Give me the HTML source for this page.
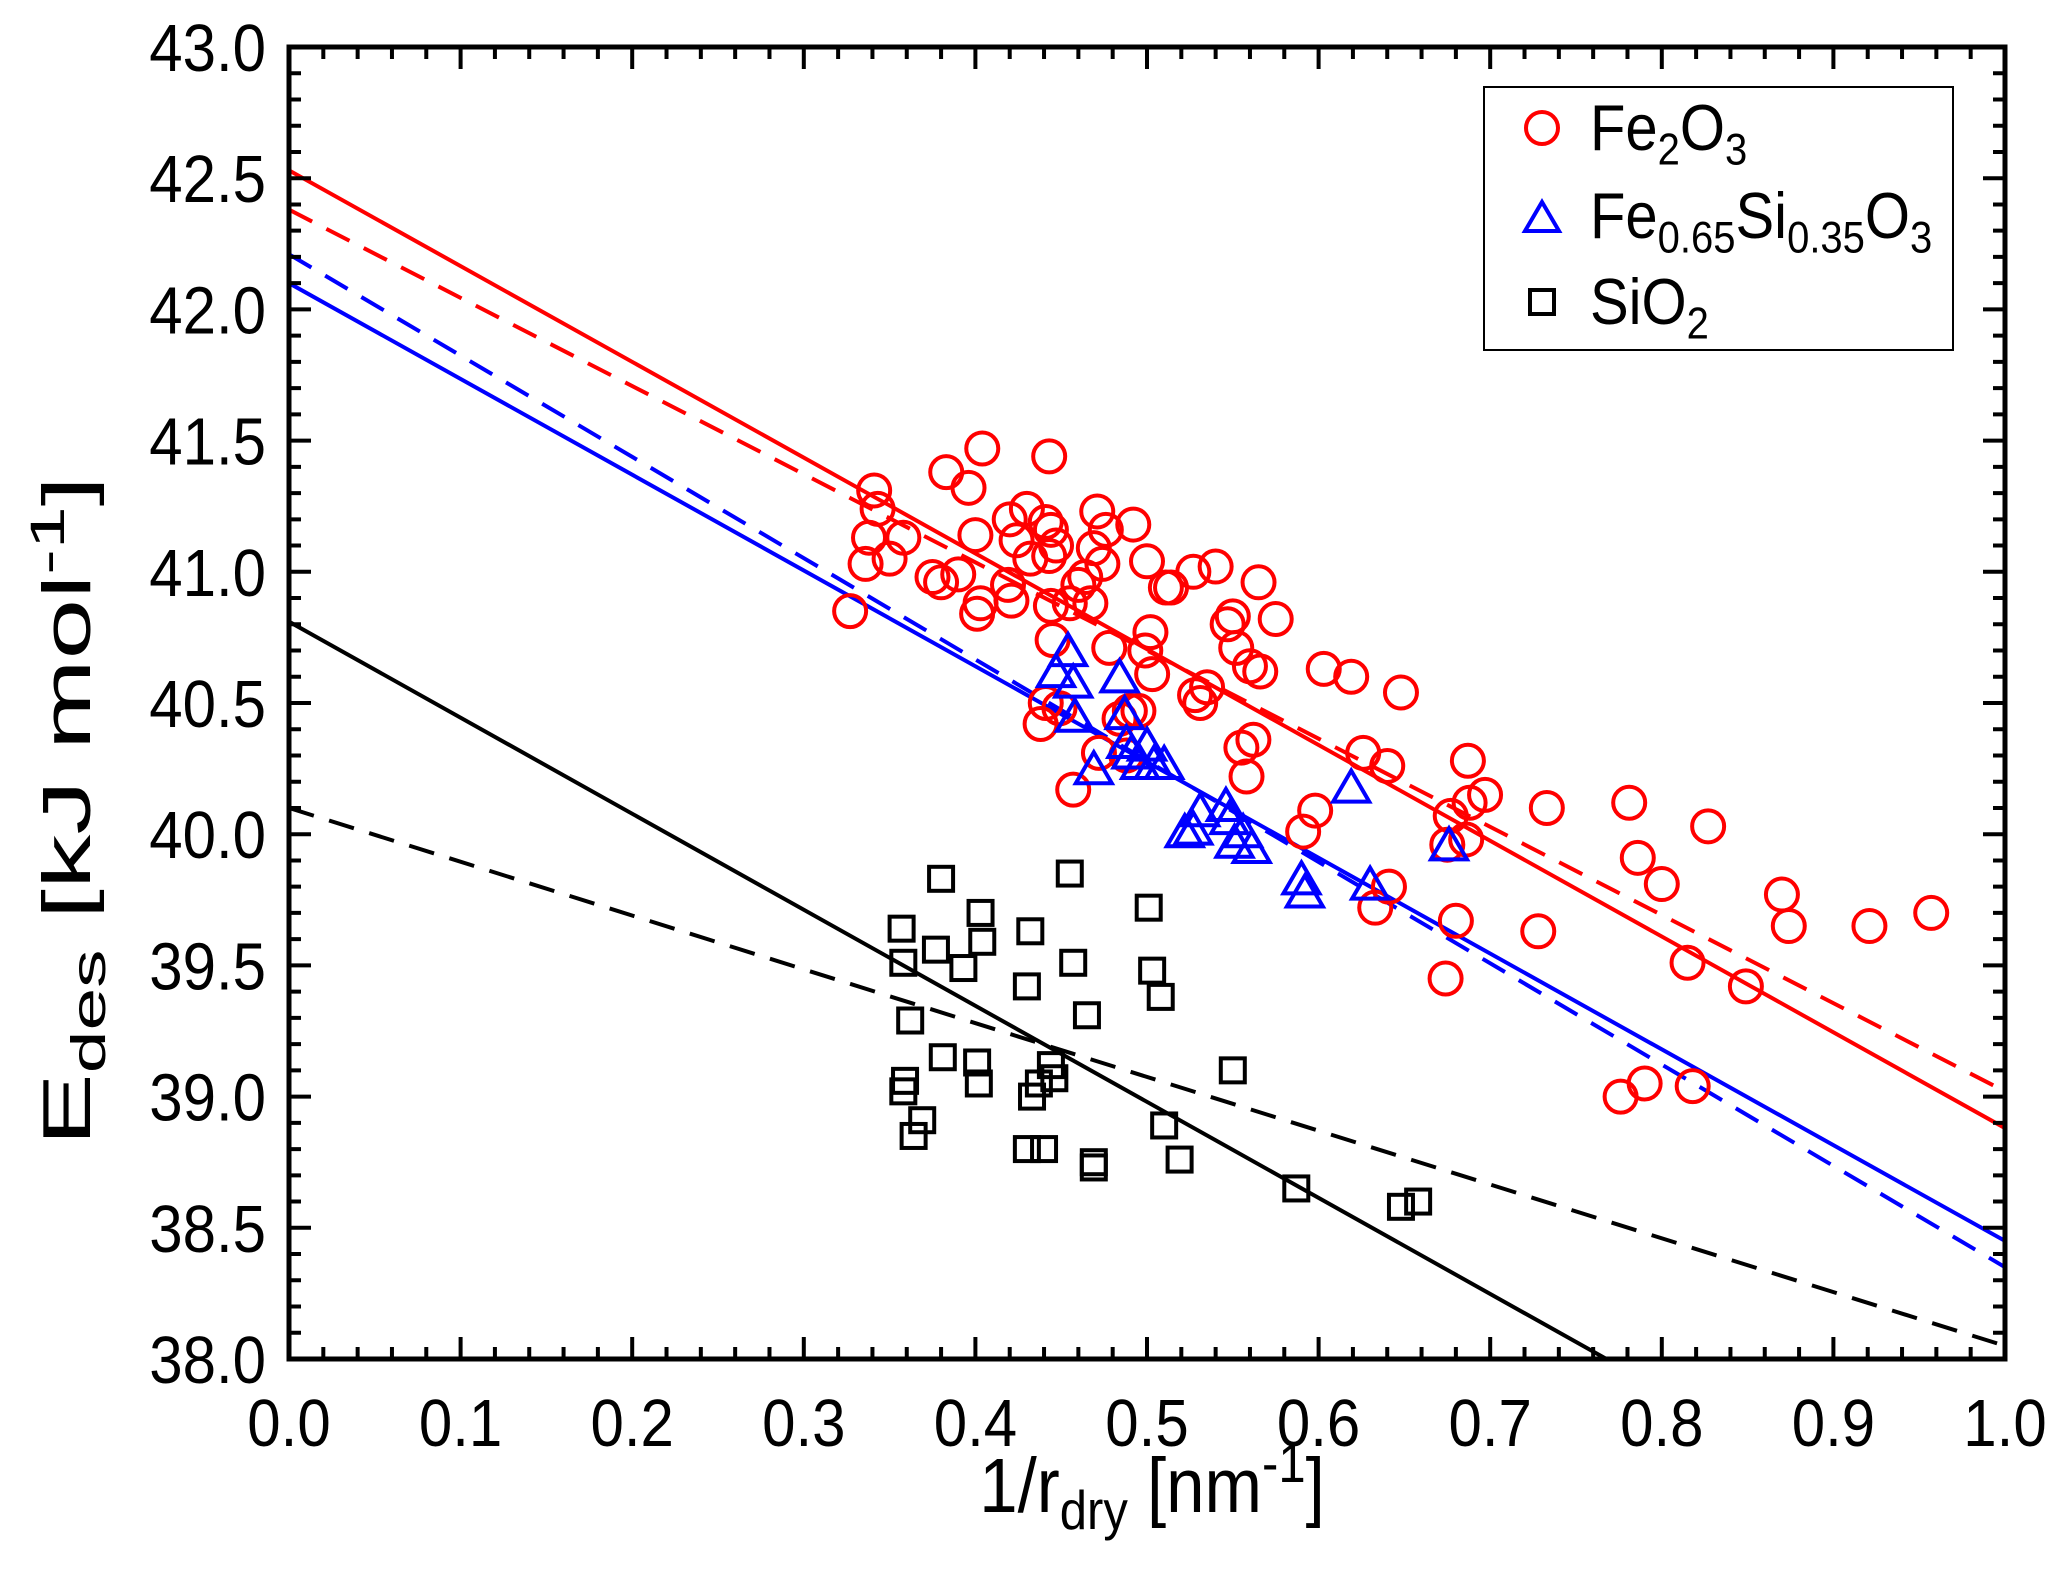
<!DOCTYPE html>
<html><head><meta charset="utf-8"><style>
html,body{margin:0;padding:0;background:#fff}
svg{display:block;font-family:"Liberation Sans",Arial,sans-serif}
</style></head><body>
<svg id="chart" width="2067" height="1572" viewBox="0 0 2067 1572" xmlns="http://www.w3.org/2000/svg">
<rect width="2067" height="1572" fill="#fff"/>
<g id="lines"></g>
<g id="points"></g>
<g id="axes"></g>
<text transform="translate(1152,1512) scale(1,1.12)" font-size="69" text-anchor="middle">1/r<tspan font-size="49" dy="15">dry</tspan><tspan dy="-15"> [nm</tspan><tspan font-size="49" dy="-27">-1</tspan><tspan dy="27">]</tspan></text>
<text transform="translate(90,811) rotate(-90) scale(1.6,1)" font-size="68" text-anchor="middle">E<tspan font-size="48" dy="15">des</tspan><tspan dy="-15"> [kJ mol</tspan><tspan font-size="48" dy="-26">-1</tspan><tspan dy="26">]</tspan></text>
<g>
<rect x="1484" y="87" width="469" height="263" fill="#fff" stroke="#000" stroke-width="2"/>
<circle cx="1542" cy="128" r="16" fill="none" stroke="#f00" stroke-width="4"/>
<text transform="translate(1590,150) scale(1,1.12)" font-size="58">Fe<tspan font-size="40" dy="13">2</tspan><tspan dy="-13">O</tspan><tspan font-size="40" dy="13">3</tspan></text>
<polygon points="1542,202 1559,231 1525,231" fill="none" stroke="#00f" stroke-width="4"/>
<text transform="translate(1590,238) scale(1,1.12)" font-size="58">Fe<tspan font-size="40" dy="13">0.65</tspan><tspan dy="-13">Si</tspan><tspan font-size="40" dy="13">0.35</tspan><tspan dy="-13">O</tspan><tspan font-size="40" dy="13">3</tspan></text>
<rect x="1530" y="290" width="24" height="24" fill="none" stroke="#000" stroke-width="4"/>
<text transform="translate(1590,324) scale(1,1.12)" font-size="58">SiO<tspan font-size="40" dy="13">2</tspan></text>
</g>
</svg>
<script>
const fe2o3X=[0.327,0.336,0.338,0.341,0.343,0.350,0.358,0.375,0.380,0.383,0.390,0.396,0.400,0.401,0.404,0.403,0.420,0.419,0.421,0.424,0.430,0.432,0.438,0.441,0.443,0.441,0.443,0.444,0.444,0.445,0.447,0.449,0.455,0.457,0.460,0.464,0.467,0.469,0.471,0.472,0.474,0.476,0.478,0.484,0.488,0.490,0.492,0.495,0.499,0.500,0.502,0.503,0.511,0.514,0.527,0.528,0.531,0.535,0.540,0.547,0.550,0.552,0.555,0.558,0.560,0.562,0.565,0.566,0.575,0.591,0.598,0.603,0.619,0.626,0.633,0.640,0.641,0.648,0.674,0.675,0.677,0.680,0.686,0.687,0.688,0.697,0.728,0.733,0.776,0.781,0.786,0.790,0.800,0.815,0.818,0.827,0.849,0.870,0.874,0.921,0.957];
const fe2o3Y=[40.85,41.03,41.13,41.31,41.24,41.05,41.13,40.98,40.96,41.38,40.99,41.32,41.14,40.84,41.47,40.88,41.20,40.95,40.89,41.12,41.24,41.05,40.42,41.19,41.44,40.50,41.06,41.16,40.87,40.74,41.10,40.48,40.88,40.17,40.95,40.98,40.88,41.09,41.23,40.31,41.03,41.16,40.71,40.44,40.30,40.47,41.18,40.47,40.70,41.04,40.77,40.61,40.94,40.94,41.00,40.53,40.50,40.56,41.02,40.80,40.83,40.71,40.33,40.22,40.64,40.36,40.96,40.62,40.82,40.01,40.09,40.63,40.60,40.31,39.72,40.26,39.80,40.54,39.45,39.96,40.07,39.67,39.98,40.28,40.12,40.15,39.63,40.10,39.00,40.12,39.91,39.05,39.81,39.51,39.04,40.03,39.42,39.77,39.65,39.65,39.70];
const fesioX=[0.447,0.454,0.457,0.458,0.469,0.484,0.487,0.488,0.491,0.496,0.500,0.504,0.510,0.522,0.527,0.531,0.546,0.548,0.551,0.556,0.561,0.590,0.592,0.619,0.630,0.676];
const fesioY=[40.61,40.69,40.57,40.44,40.24,40.59,40.45,40.34,40.30,40.26,40.33,40.26,40.26,40.00,40.01,40.08,40.10,40.05,39.96,40.00,39.94,39.82,39.77,40.17,39.80,39.95];
const sio2X=[0.357,0.358,0.359,0.358,0.362,0.364,0.369,0.377,0.380,0.381,0.393,0.401,0.402,0.403,0.404,0.430,0.430,0.432,0.433,0.437,0.440,0.444,0.446,0.455,0.457,0.465,0.469,0.469,0.501,0.503,0.508,0.510,0.519,0.550,0.587,0.648,0.658];
const sio2Y=[39.64,39.51,39.06,39.02,39.29,38.85,38.91,39.56,39.83,39.15,39.49,39.13,39.05,39.70,39.59,38.80,39.42,39.63,39.00,39.05,38.80,39.12,39.07,39.85,39.51,39.31,38.73,38.75,39.72,39.48,39.38,38.89,38.76,39.10,38.65,38.58,38.60];
const fitNames=['fe2o3-fit-solid','fe2o3-fit-dashed','fesio-fit-solid','fesio-fit-dashed','sio2-fit-solid','sio2-fit-dashed'];
const fitIntercepts=[42.53,42.38,42.10,42.21,40.81,40.10];
const fitSlopes=[-3.65,-3.36,-3.65,-3.86,-3.66,-2.05];
const fitColors=['#f00','#f00','#00f','#00f','#000','#000'];
const fitDashed=[false,true,false,true,false,true];
const xTickLabels=['0.0','0.1','0.2','0.3','0.4','0.5','0.6','0.7','0.8','0.9','1.0'];
const yTickLabels=['38.0','38.5','39.0','39.5','40.0','40.5','41.0','41.5','42.0','42.5','43.0'];

const L=289,R=2005,T=47,B=1359,X0=0,X1=1,Y0=38,Y1=43;
const sx=v=>L+(v-X0)/(X1-X0)*(R-L);
const sy=v=>B-(v-Y0)/(Y1-Y0)*(B-T);
const NS='http://www.w3.org/2000/svg';
function mk(tag,parent,attrs){const e=document.createElementNS(NS,tag);for(const k in attrs)e.setAttribute(k,attrs[k]);parent.appendChild(e);return e;}

const gl=document.getElementById('lines');
const clip=mk('clipPath',gl,{id:'pc'});mk('rect',clip,{x:L,y:T,width:R-L,height:B-T});
for(let i=0;i<fitNames.length;i++){
  const ln=mk('line',gl,{x1:sx(0),y1:sy(fitIntercepts[i]),x2:sx(1),y2:sy(fitIntercepts[i]+fitSlopes[i]),stroke:fitColors[i],'stroke-width':4,'clip-path':'url(#pc)'});
  if(fitDashed[i])ln.setAttribute('stroke-dasharray','26 16');
  
  
}
const gp=document.getElementById('points');
for(let i=0;i<sio2X.length;i++){
  const r=mk('rect',gp,{x:sx(sio2X[i])-12,y:sy(sio2Y[i])-12,width:24,height:24,fill:'none',stroke:'#000','stroke-width':4});
  
  
}
for(let i=0;i<fe2o3X.length;i++){
  const c=mk('circle',gp,{cx:sx(fe2o3X[i]),cy:sy(fe2o3Y[i]),r:16,fill:'none',stroke:'#f00','stroke-width':4});
  
  
}
for(let i=0;i<fesioX.length;i++){
  const x=sx(fesioX[i]),y=sy(fesioY[i]);
  const p=mk('polygon',gp,{points:`${x},${y-19} ${x+18},${y+12} ${x-18},${y+12}`,fill:'none',stroke:'#00f','stroke-width':4});
  
  
}
const ga=document.getElementById('axes');
const frame=mk('rect',ga,{x:L,y:T,width:R-L,height:B-T,fill:'none',stroke:'#000','stroke-width':5});


let d='';
for(let k=0;k<=50;k++){const v=k*0.02,x=sx(v),len=(k%5===0)?22:12;d+=`M${x},${B}v${-len}M${x},${T}v${len}`;}
for(let k=0;k<=50;k++){const v=38+k*0.1,y=sy(v),len=(k%5===0)?22:12;d+=`M${L},${y}h${len}M${R},${y}h${-len}`;}
const ticks=mk('path',ga,{d:d,stroke:'#000','stroke-width':4,fill:'none'});


xTickLabels.forEach((t,i)=>{
  const e=mk('text',ga,{transform:`translate(${sx(i*0.1)},1446) scale(1,1.12)`,'font-size':60,'text-anchor':'middle'});e.textContent=t;
  
  
});
yTickLabels.forEach((t,i)=>{
  const e=mk('text',ga,{transform:`translate(266,${sy(38+i*0.5)+24}) scale(1,1.12)`,'font-size':60,'text-anchor':'end'});e.textContent=t;
  
  
});
</script>
</body></html>
